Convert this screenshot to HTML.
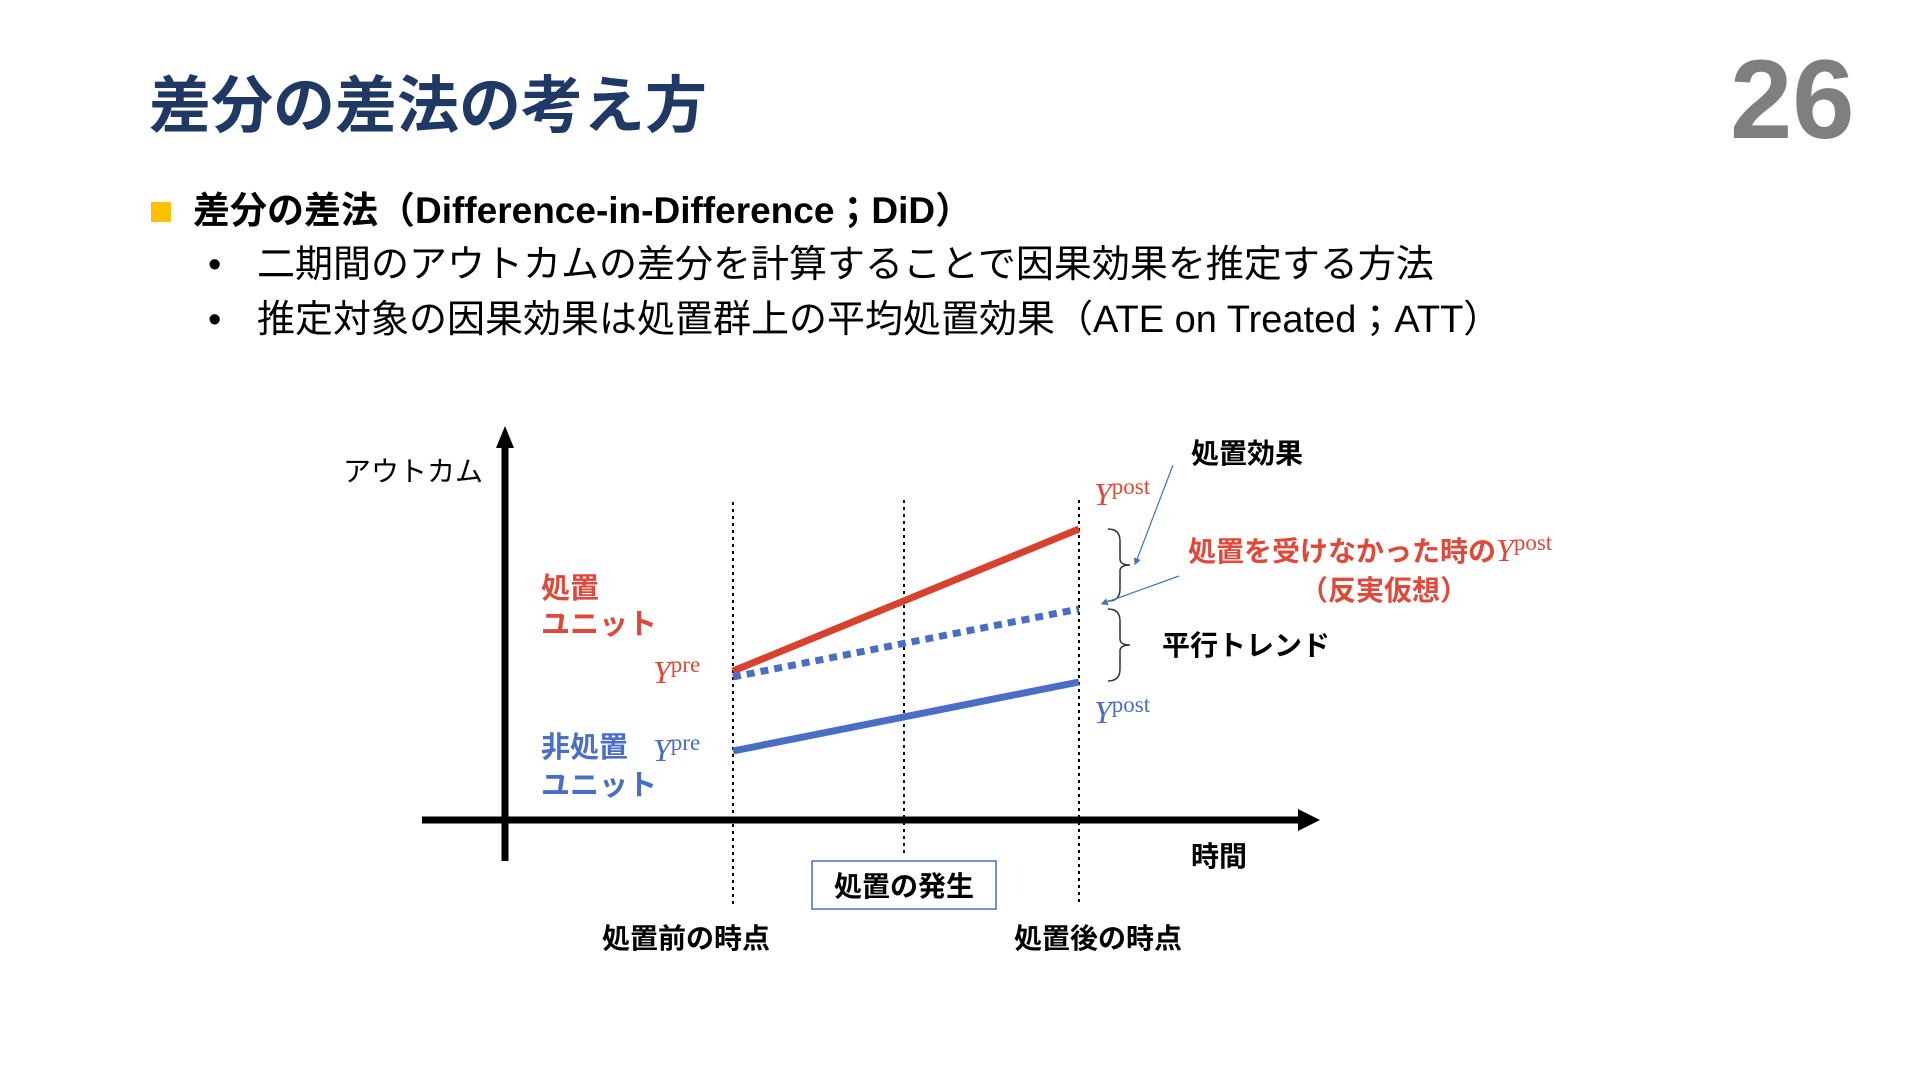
<!DOCTYPE html>
<html><head><meta charset="utf-8"><style>
body{margin:0;width:1920px;height:1080px;background:#fff;overflow:hidden;position:relative;font-family:"Liberation Sans","Noto Sans CJK JP",sans-serif}
.t{position:absolute;white-space:nowrap;line-height:1}
</style></head><body>
<div class="t" style="left:149px;top:76px;font-size:62px;font-weight:bold;color:#1f3864">差分の差法の考え方</div>
<div class="t" style="left:1730px;top:44px;font-size:112px;font-weight:bold;color:#7f7f7f">26</div>
<div style="position:absolute;left:151px;top:202px;width:20px;height:20px;background:#ffc000"></div>
<div class="t" style="left:193px;top:192px;font-size:37px;font-weight:bold;color:#000">差分の差法（Difference-in-Difference；DiD）</div>
<div class="t" style="left:208px;top:246px;font-size:38px;color:#000">•</div>
<div class="t" style="left:257px;top:246px;font-size:38px;color:#000">二期間のアウトカムの差分を計算することで因果効果を推定する方法</div>
<div class="t" style="left:208px;top:301px;font-size:38px;color:#000">•</div>
<div class="t" style="left:257px;top:301px;font-size:38px;color:#000">推定対象の因果効果は処置群上の平均処置効果（ATE on Treated；ATT）</div>
<svg width="1920" height="1080" style="position:absolute;left:0;top:0">
<defs><marker id="ah" markerWidth="6" markerHeight="6" refX="3" refY="3" orient="auto"><path d="M0,0L6,3L0,6z" fill="#4472c4"/></marker></defs>
<g id="axes"></g><g id="lines"></g>
<text x="343" y="481" font-size="28">アウトカム</text>
<text x="1191" y="866" font-size="28" font-weight="bold">時間</text>
<text x="541" y="598" font-size="29" fill="#e0483a" font-weight="bold">処置</text>
<text x="541" y="634" font-size="29" fill="#e0483a" font-weight="bold">ユニット</text>
<text x="541" y="757" font-size="29" fill="#4a6ec4" font-weight="bold">非処置</text>
<text x="541" y="795" font-size="29" fill="#4a6ec4" font-weight="bold">ユニット</text>
<g font-family="Liberation Serif,serif">
<text x="653" y="683" font-size="32" fill="#e0483a"><tspan font-style="italic">Y</tspan><tspan font-size="23" dy="-11">pre</tspan></text>
<text x="653" y="761" font-size="32" fill="#4a6ec4"><tspan font-style="italic">Y</tspan><tspan font-size="23" dy="-11">pre</tspan></text>
<text x="1094" y="505" font-size="32" fill="#e0483a"><tspan font-style="italic">Y</tspan><tspan font-size="23" dy="-11">post</tspan></text>
<text x="1094" y="723" font-size="32" fill="#4a6ec4"><tspan font-style="italic">Y</tspan><tspan font-size="23" dy="-11">post</tspan></text>
</g>
<text x="1191" y="463" font-size="28" font-weight="bold">処置効果</text>
<text x="1188" y="561" font-size="28" fill="#e0483a" font-weight="bold">処置を受けなかった時の<tspan font-family="Liberation Serif,serif" font-weight="normal" font-style="italic" font-size="32">Y</tspan><tspan font-family="Liberation Serif,serif" font-weight="normal" font-size="23" dy="-11">post</tspan></text>
<text x="1384" y="600" font-size="28" fill="#e0483a" font-weight="bold" text-anchor="middle">（反実仮想）</text>
<text x="1162" y="655" font-size="28" font-weight="bold">平行トレンド</text>
<rect x="812" y="861" width="184" height="48" fill="#fff" stroke="#4472c4" stroke-width="1.5"/>
<text x="904" y="896" font-size="28" font-weight="bold" text-anchor="middle">処置の発生</text>
<text x="686" y="948" font-size="28" font-weight="bold" text-anchor="middle">処置前の時点</text>
<text x="1098" y="948" font-size="28" font-weight="bold" text-anchor="middle">処置後の時点</text>
<path d="M1108,529 q12,0 12,12 v18 q0,6 10,6 q-10,0 -10,6 v18 q0,12 -12,12" fill="none" stroke="#333" stroke-width="1.5"/>
<path d="M1108,609 q12,0 12,12 v18 q0,6 10,6 q-10,0 -10,6 v18 q0,12 -12,12" fill="none" stroke="#333" stroke-width="1.5"/>
<line x1="1173" y1="465" x2="1136" y2="562" stroke="#4472c4" stroke-width="1.2" marker-end="url(#ah)"/>
<line x1="1179" y1="576" x2="1104" y2="603" stroke="#4472c4" stroke-width="1.2" marker-end="url(#ah)"/>
</svg>
<script>
const periods=["pre","mid","post"];
const treated=[0.3725,null,0.7275];
const counterfactual=[0.3575,null,0.5275];
const control=[0.1725,null,0.345];
const X0=505,Y0=820;
function xs(i){return [733,904,1079][i];}
function ys(v){return 820-v*400;}
const NS="http://www.w3.org/2000/svg";
const ax=document.getElementById('axes'),ln=document.getElementById('lines');
function mk(tag,at,p){const e=document.createElementNS(NS,tag);for(const k in at)e.setAttribute(k,at[k]);p.appendChild(e);return e;}
let e=mk('line',{x1:X0,y1:861,x2:X0,y2:445,stroke:'#000','stroke-width':7},ax);


e=mk('path',{d:'M496,448 L505,426 L514,448 Z'},ax);


e=mk('line',{x1:422,y1:Y0,x2:1300,y2:Y0,stroke:'#000','stroke-width':7},ax);


e=mk('path',{d:'M1298,809 L1320,820 L1298,831 Z'},ax);


const vb=[[502,906],[500,857],[500,906]];
periods.forEach((p,i)=>{
  const l=mk('line',{x1:xs(i),x2:xs(i),y1:vb[i][0],y2:vb[i][1],stroke:'#000','stroke-width':2,'stroke-dasharray':'3,4'},ax);
  
  
});
function series(arr,color,dash,name){
  const a={x1:xs(0),y1:ys(arr[0]),x2:xs(2),y2:ys(arr[2]),stroke:color,'stroke-width':7};
  if(dash)a['stroke-dasharray']=dash;
  const l=mk('line',a,ln);
  
  
}
series(treated,'#d9412f',null,'treated-line');
series(counterfactual,'#4a6ec4','8,6','counterfactual-line');
series(control,'#4a6ec4',null,'control-line');
</script>
</body></html>
